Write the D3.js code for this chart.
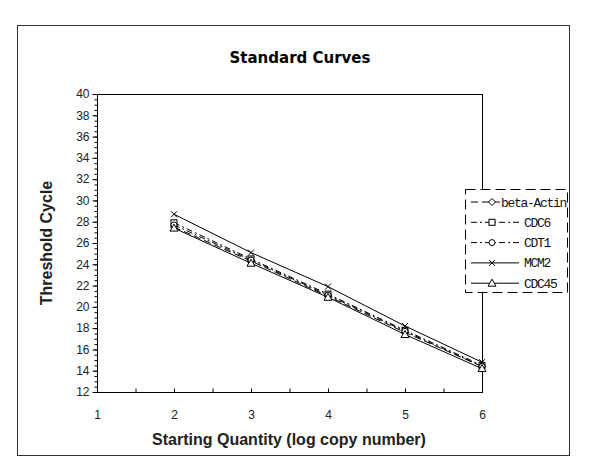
<!DOCTYPE html>
<html>
<head>
<meta charset="utf-8">
<script src="https://cdn.jsdelivr.net/npm/d3@7"></script>
<style>
  body { margin: 0; background: #fff; }
  svg { display: block; }
</style>
</head>
<body>
<svg id="chart" width="600" height="476"></svg>
<script>
// Standard curves data
const quantities = [2, 3, 4, 5, 6];
const betaActin = [27.5, 24.3, 21.0, 17.6, 14.4];
const cdc6 = [27.9, 24.5, 21.2, 17.8, 14.5];
const cdt1 = [27.7, 24.4, 21.1, 17.7, 14.4];
const mcm2 = [28.7, 25.1, 21.9, 18.2, 14.8];
const cdc45 = [27.4, 24.1, 20.9, 17.4, 14.2];
const xTicks = [1, 2, 3, 4, 5, 6];
const yTicks = [12, 14, 16, 18, 20, 22, 24, 26, 28, 30, 32, 34, 36, 38, 40];

const series = [
  { name: "beta-Actin", values: betaActin, dash: "7,4", marker: "diamond" },
  { name: "CDC6", values: cdc6, dash: "6,3,2,3", marker: "square" },
  { name: "CDT1", values: cdt1, dash: "6,3,2,3", marker: "circle" },
  { name: "MCM2", values: mcm2, dash: null, marker: "cross" },
  { name: "CDC45", values: cdc45, dash: null, marker: "triangle" }
];

const svg = d3.select("#chart");

// outer frame
svg.append("rect")
  .attr("x", 17.5).attr("y", 25.5)
  .attr("width", 552).attr("height", 430)
  .attr("fill", "none").attr("stroke", "#333").attr("stroke-width", 1);

const plot = { left: 97, right: 482, top: 94, bottom: 392 };
const x = d3.scaleLinear().domain([1, 6]).range([plot.left, plot.right]);
const y = d3.scaleLinear().domain([12, 40]).range([plot.bottom, plot.top]);

// plot frame
svg.append("rect")
  .attr("x", plot.left + 0.5).attr("y", plot.top + 0.5)
  .attr("width", plot.right - plot.left).attr("height", plot.bottom - plot.top)
  .attr("fill", "none").attr("stroke", "#000");

// y axis minor ticks
svg.append("g")
  .attr("transform", `translate(${plot.left + 0.5},0)`)
  .call(d3.axisLeft(y).tickValues(d3.range(12, 40.01, 0.5)).tickSize(3).tickFormat(""))
  .call(g => g.select(".domain").remove());

// y axis major ticks + labels
svg.append("g")
  .attr("transform", `translate(${plot.left + 0.5},0)`)
  .call(d3.axisLeft(y).tickValues(yTicks).tickSize(5).tickPadding(3))
  .call(g => g.select(".domain").remove())
  .call(g => g.selectAll("text")
    .attr("font-family", "Liberation Sans, Arial, sans-serif")
    .attr("font-size", 12).attr("fill", "#222"));

// x axis ticks (inside) every 0.5
svg.append("g")
  .attr("transform", `translate(0,${plot.bottom + 0.5})`)
  .call(d3.axisTop(x).tickValues(d3.range(1.5, 6, 0.5)).tickSize(4).tickFormat(""))
  .call(g => g.select(".domain").remove());

// x labels
svg.append("g")
  .attr("transform", `translate(0,${plot.bottom + 0.5})`)
  .call(d3.axisBottom(x).tickValues(xTicks).tickSize(0).tickPadding(18).tickFormat(d3.format("d")))
  .call(g => g.select(".domain").remove())
  .call(g => g.selectAll("text")
    .attr("font-family", "Liberation Sans, Arial, sans-serif")
    .attr("font-size", 12).attr("fill", "#222"));

// titles
svg.append("text")
  .attr("x", 300).attr("y", 63)
  .attr("text-anchor", "middle")
  .attr("font-family", "DejaVu Sans, sans-serif")
  .attr("font-weight", "bold").attr("font-size", 15)
  .text("Standard Curves");

svg.append("text")
  .attr("x", 289).attr("y", 445)
  .attr("text-anchor", "middle")
  .attr("font-family", "Liberation Sans, Arial, sans-serif")
  .attr("font-weight", "bold").attr("font-size", 16).attr("fill", "#222")
  .text("Starting Quantity (log copy number)");

svg.append("text")
  .attr("transform", `translate(52,${(plot.top + plot.bottom) / 2}) rotate(-90)`)
  .attr("text-anchor", "middle")
  .attr("font-family", "Liberation Sans, Arial, sans-serif")
  .attr("font-weight", "bold").attr("font-size", 16).attr("fill", "#222")
  .text("Threshold Cycle");

function drawMarker(g, type, cx, cy) {
  const s = 3.5;
  if (type === "diamond") {
    g.append("path").attr("d", `M${cx},${cy - s}L${cx + s},${cy}L${cx},${cy + s}L${cx - s},${cy}Z`)
      .attr("fill", "#fff").attr("stroke", "#000");
  } else if (type === "square") {
    g.append("rect").attr("x", cx - 3).attr("y", cy - 3).attr("width", 6).attr("height", 6)
      .attr("fill", "#fff").attr("stroke", "#000");
  } else if (type === "circle") {
    g.append("circle").attr("cx", cx).attr("cy", cy).attr("r", 3)
      .attr("fill", "#fff").attr("stroke", "#000");
  } else if (type === "cross") {
    g.append("path").attr("d", `M${cx - 3},${cy - 3}L${cx + 3},${cy + 3}M${cx - 3},${cy + 3}L${cx + 3},${cy - 3}`)
      .attr("stroke", "#000");
  } else if (type === "triangle") {
    g.append("path").attr("d", `M${cx},${cy - 4}L${cx + 4},${cy + 3}L${cx - 4},${cy + 3}Z`)
      .attr("fill", "#fff").attr("stroke", "#000");
  }
}

const line = d3.line().x((d, i) => x(quantities[i])).y(d => y(d));

series.forEach(s => {
  const g = svg.append("g");
  g.append("path")
    .datum(s.values)
    .attr("d", line)
    .attr("fill", "none")
    .attr("stroke", "#000")
    .attr("stroke-width", 1)
    .attr("stroke-dasharray", s.dash);
  s.values.forEach((v, i) => drawMarker(g, s.marker, x(quantities[i]), y(v)));
});

// legend
const legend = svg.append("g");
legend.append("rect")
  .attr("x", 465.5).attr("y", 189.5)
  .attr("width", 102).attr("height", 103)
  .attr("fill", "#fff").attr("stroke", "#000")
  .attr("stroke-dasharray", "10,5");

series.forEach((s, i) => {
  const ly = 202 + i * 20.3;
  legend.append("line")
    .attr("x1", 471).attr("x2", s.name === "beta-Actin" ? 501 : 519)
    .attr("y1", ly).attr("y2", ly)
    .attr("stroke", "#000")
    .attr("stroke-dasharray", s.dash);
  drawMarker(legend, s.marker, 492, ly);
  legend.append("text")
    .attr("x", s.name === "beta-Actin" ? 501 : 524).attr("y", ly + 4.5)
    .attr("font-family", "Liberation Mono, monospace")
    .attr("font-size", 13).attr("letter-spacing", -1.3).attr("fill", "#111")
    .text(s.name);
});
</script>
</body>
</html>
